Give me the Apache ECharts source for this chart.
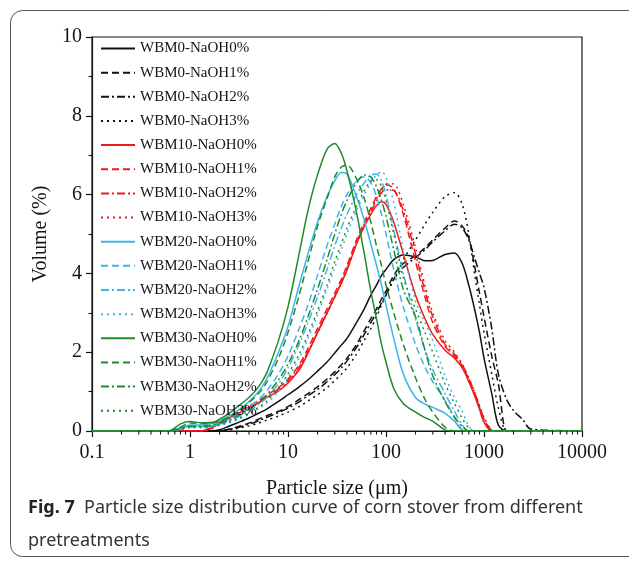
<!DOCTYPE html>
<html>
<head>
<meta charset="utf-8">
<script src="https://cdn.jsdelivr.net/npm/echarts@6/dist/echarts.min.js"></script>
<style>
  html, body { margin: 0; padding: 0; background: #fff; }
  #chart { width: 629px; height: 564px; }
</style>
</head>
<body>
<div id="chart"></div>
<script>
// Particle size bins (µm), shared by every distribution curve
const sizes = [0.1, 0.6, 0.8, 1, 1.3, 1.7, 2, 2.5, 3, 4, 5, 6, 8, 10, 13, 16, 20, 25, 30, 35,
  40, 50, 60, 70, 80, 90, 100, 120, 150, 200, 250, 300, 400, 500, 600, 700, 800, 900, 1000,
  1200, 1400, 1700, 2000, 2500, 3000, 10000];

// Volume (%) per bin for each pretreatment
const wbm0Naoh0 = [0, 0, 0, 0, 0, 0, 0.03, 0.12, 0.2, 0.33, 0.45, 0.55, 0.75, 0.92, 1.12, 1.3, 1.52, 1.75, 1.98, 2.18,
  2.35, 2.75, 3.1, 3.45, 3.7, 3.95, 4.1, 4.35, 4.47, 4.42, 4.32, 4.33, 4.48, 4.52, 4.25, 3.7, 3.1, 2.5, 1.85,
  0.95, 0.15, 0, 0, 0, 0, 0];
const wbm0Naoh1 = [0, 0, 0, 0, 0, 0, 0, 0.05, 0.1, 0.2, 0.3, 0.38, 0.5, 0.62, 0.8, 0.95, 1.12, 1.32, 1.5, 1.68,
  1.85, 2.2, 2.55, 2.85, 3.1, 3.35, 3.55, 3.95, 4.25, 4.45, 4.65, 4.85, 5.15, 5.33, 5.2, 4.9, 4.2, 3.5, 2.9,
  1.9, 1.2, 0, 0, 0, 0, 0];
const wbm0Naoh2 = [0, 0, 0, 0, 0, 0, 0, 0.04, 0.08, 0.17, 0.26, 0.34, 0.47, 0.58, 0.74, 0.9, 1.05, 1.25, 1.43, 1.6,
  1.78, 2.12, 2.45, 2.75, 3.0, 3.25, 3.45, 3.85, 4.15, 4.4, 4.6, 4.8, 5.08, 5.25, 5.15, 4.85, 4.4, 4.0, 3.65,
  2.6, 1.45, 0.8, 0.52, 0.28, 0.05, 0];
const wbm0Naoh3 = [0, 0, 0, 0, 0, 0, 0, 0.03, 0.06, 0.13, 0.2, 0.27, 0.38, 0.48, 0.62, 0.76, 0.92, 1.1, 1.28, 1.44,
  1.6, 1.95, 2.3, 2.6, 2.9, 3.2, 3.45, 3.85, 4.35, 4.85, 5.25, 5.55, 5.95, 6.05, 5.75, 5.0, 4.0, 3.2, 2.5,
  1.45, 0.6, 0, 0, 0, 0, 0];

const wbm10Naoh0 = [0, 0, 0, 0, 0, 0.1, 0.22, 0.33, 0.43, 0.58, 0.72, 0.84, 1.02, 1.22, 1.55, 1.98, 2.5, 3.0, 3.4, 3.75,
  4.08, 4.75, 5.2, 5.5, 5.72, 5.82, 5.75, 5.3, 4.5, 3.45, 2.85, 2.45, 2.05, 1.85, 1.6, 1.25, 0.9, 0.55, 0.22,
  0, 0, 0, 0, 0, 0, 0];
const wbm10Naoh1 = [0, 0, 0, 0, 0, 0.1, 0.22, 0.35, 0.47, 0.63, 0.77, 0.9, 1.1, 1.32, 1.68, 2.1, 2.6, 3.1, 3.5, 3.85,
  4.2, 4.85, 5.3, 5.65, 5.95, 6.15, 6.25, 6.15, 5.5, 4.3, 3.4, 2.75, 2.15, 1.9, 1.65, 1.3, 0.95, 0.6, 0.3,
  0, 0, 0, 0, 0, 0, 0];
const wbm10Naoh2 = [0, 0, 0, 0, 0, 0.08, 0.2, 0.32, 0.44, 0.6, 0.74, 0.87, 1.07, 1.28, 1.62, 2.02, 2.5, 3.0, 3.42, 3.78,
  4.12, 4.75, 5.2, 5.55, 5.85, 6.05, 6.12, 6.1, 5.6, 4.5, 3.55, 2.9, 2.2, 1.95, 1.68, 1.33, 0.98, 0.63, 0.32,
  0.02, 0, 0, 0, 0, 0, 0];
const wbm10Naoh3 = [0, 0, 0, 0, 0, 0.06, 0.18, 0.3, 0.42, 0.57, 0.7, 0.83, 1.03, 1.25, 1.6, 2.0, 2.48, 2.98, 3.4, 3.77,
  4.12, 4.78, 5.25, 5.62, 5.9, 6.12, 6.28, 6.27, 5.75, 4.65, 3.7, 3.0, 2.3, 2.0, 1.7, 1.35, 1.0, 0.65, 0.35,
  0.03, 0, 0, 0, 0, 0, 0];

const wbm20Naoh0 = [0, 0, 0.08, 0.15, 0.15, 0.2, 0.26, 0.38, 0.5, 0.75, 1.0, 1.3, 2.0, 2.65, 3.7, 4.5, 5.3, 5.95, 6.35, 6.56,
  6.52, 5.95, 5.35, 4.75, 4.2, 3.7, 3.2, 2.35, 1.45, 0.85, 0.68, 0.6, 0.45, 0.25, 0.02, 0, 0, 0, 0,
  0, 0, 0, 0, 0, 0, 0];
const wbm20Naoh1 = [0, 0, 0.05, 0.12, 0.12, 0.15, 0.2, 0.3, 0.4, 0.6, 0.8, 1.0, 1.45, 1.9, 2.6, 3.2, 3.95, 4.7, 5.25, 5.7,
  6.0, 6.35, 6.45, 6.3, 5.95, 5.5, 5.0, 4.1, 3.15, 2.2, 1.62, 1.25, 0.78, 0.35, 0.03, 0, 0, 0, 0,
  0, 0, 0, 0, 0, 0, 0];
const wbm20Naoh2 = [0, 0, 0.04, 0.1, 0.1, 0.12, 0.17, 0.25, 0.34, 0.5, 0.67, 0.84, 1.2, 1.6, 2.2, 2.75, 3.4, 4.1, 4.7, 5.15,
  5.5, 6.0, 6.3, 6.5, 6.52, 6.35, 6.0, 5.1, 4.0, 2.85, 2.05, 1.55, 0.95, 0.5, 0.15, 0, 0, 0, 0,
  0, 0, 0, 0, 0, 0, 0];
const wbm20Naoh3 = [0, 0, 0.03, 0.08, 0.08, 0.1, 0.14, 0.2, 0.28, 0.42, 0.56, 0.7, 1.0, 1.35, 1.85, 2.35, 2.95, 3.6, 4.15, 4.6,
  5.0, 5.6, 6.0, 6.3, 6.5, 6.58, 6.45, 5.8, 4.6, 3.3, 2.75, 2.3, 1.4, 0.85, 0.5, 0.12, 0, 0, 0,
  0, 0, 0, 0, 0, 0, 0];

const wbm30Naoh0 = [0, 0, 0.18, 0.24, 0.21, 0.22, 0.3, 0.45, 0.6, 0.85, 1.12, 1.45, 2.3, 3.15, 4.5, 5.6, 6.5, 7.15, 7.3, 7.05,
  6.6, 5.55, 4.5, 3.55, 2.85, 2.2, 1.75, 1.08, 0.7, 0.48, 0.34, 0.25, 0.03, 0, 0, 0, 0, 0, 0,
  0, 0, 0, 0, 0, 0, 0];
const wbm30Naoh1 = [0, 0, 0.1, 0.2, 0.19, 0.2, 0.25, 0.35, 0.47, 0.72, 0.95, 1.22, 1.85, 2.5, 3.45, 4.3, 5.2, 5.9, 6.45, 6.7,
  6.75, 6.4, 5.9, 5.3, 4.7, 4.2, 3.7, 3.0, 2.2, 1.35, 0.8, 0.48, 0.1, 0, 0, 0, 0, 0, 0,
  0, 0, 0, 0, 0, 0, 0];
const wbm30Naoh2 = [0, 0, 0.06, 0.12, 0.12, 0.15, 0.2, 0.28, 0.37, 0.55, 0.72, 0.9, 1.3, 1.7, 2.3, 2.9, 3.6, 4.35, 5.0, 5.5,
  5.85, 6.3, 6.5, 6.45, 6.2, 5.85, 5.45, 4.6, 3.6, 2.9, 2.05, 1.4, 0.75, 0.35, 0.12, 0, 0, 0, 0,
  0, 0, 0, 0, 0, 0, 0];
const wbm30Naoh3 = [0, 0, 0.04, 0.1, 0.1, 0.12, 0.16, 0.23, 0.3, 0.45, 0.6, 0.75, 1.1, 1.45, 1.95, 2.45, 3.05, 3.7, 4.3, 4.75,
  5.15, 5.7, 6.1, 6.35, 6.38, 6.2, 5.85, 5.0, 3.9, 3.1, 2.5, 2.0, 1.2, 0.7, 0.32, 0.08, 0, 0, 0,
  0, 0, 0, 0, 0, 0, 0];

const seriesNames = [
  'WBM0-NaOH0%', 'WBM0-NaOH1%', 'WBM0-NaOH2%', 'WBM0-NaOH3%',
  'WBM10-NaOH0%', 'WBM10-NaOH1%', 'WBM10-NaOH2%', 'WBM10-NaOH3%',
  'WBM20-NaOH0%', 'WBM20-NaOH1%', 'WBM20-NaOH2%', 'WBM20-NaOH3%',
  'WBM30-NaOH0%', 'WBM30-NaOH1%', 'WBM30-NaOH2%', 'WBM30-NaOH3%'
];
const seriesValues = [
  wbm0Naoh0, wbm0Naoh1, wbm0Naoh2, wbm0Naoh3,
  wbm10Naoh0, wbm10Naoh1, wbm10Naoh2, wbm10Naoh3,
  wbm20Naoh0, wbm20Naoh1, wbm20Naoh2, wbm20Naoh3,
  wbm30Naoh0, wbm30Naoh1, wbm30Naoh2, wbm30Naoh3
];

// Colour per wet ball-milling level, dash pattern per NaOH loading
const groupColors = ['#111111', '#f01a1a', '#3cb6ea', '#1f8a2c'];
const dashPatterns = ['solid', [7, 4], [8, 3, 2, 3], [2, 4]];

// Minor tick positions 2..9 within each decade
const minorTickValues = [];
[0.1, 1, 10, 100, 1000].forEach(function (d) {
  for (let m = 2; m <= 9; m++) minorTickValues.push(+(m * d).toPrecision(6));
});

const serifFont = 'Liberation Serif';
const ink = '#151515';

const series = seriesNames.map(function (name, i) {
  const color = groupColors[Math.floor(i / 4)];
  return {
    name: name,
    type: 'line',
    xAxisIndex: 0,
    yAxisIndex: 0,
    symbol: 'none',
    showSymbol: false,
    smooth: 0.3,
    animation: false,
    silent: true,
    z: i === 12 ? 3 : 2,
    lineStyle: { color: color, width: 1.5, type: dashPatterns[i % 4] },
    itemStyle: { color: color },
    data: sizes.map(function (s, k) { return [s, seriesValues[i][k]]; })
  };
});

// Logarithmic minor ticks under the x axis, placed through the axis scale
series.push({
  type: 'custom',
  name: 'minor-ticks',
  xAxisIndex: 0,
  yAxisIndex: 0,
  silent: true,
  clip: false,
  z: 4,
  animation: false,
  data: minorTickValues.map(function (v) { return [v, 0]; }),
  renderItem: function (params, api) {
    const p = api.coord([api.value(0), 0]);
    return {
      type: 'line',
      shape: { x1: p[0], y1: p[1], x2: p[0], y2: p[1] + 3.5 },
      style: { stroke: ink, lineWidth: 1.1 }
    };
  }
});

const chart = echarts.init(document.getElementById('chart'), null, { renderer: 'canvas' });
chart.setOption({
  animation: false,
  backgroundColor: '#ffffff',
  grid: {
    left: 92, right: 47, top: 37, bottom: 133,
    show: true, borderColor: ink, borderWidth: 1.2, backgroundColor: 'transparent'
  },
  legend: {
    orient: 'vertical',
    left: 100,
    top: 41,
    padding: 0,
    itemWidth: 34,
    itemHeight: 14,
    itemGap: 9.15,
    selectedMode: false,
    itemStyle: { opacity: 0 },
    textStyle: { fontFamily: serifFont, fontSize: 15, color: ink },
    data: seriesNames
  },
  xAxis: {
    type: 'log',
    logBase: 10,
    min: 0.1,
    max: 10000,
    name: 'Particle size (\u03bcm)',
    nameLocation: 'middle',
    nameGap: 48,
    nameTextStyle: { fontFamily: serifFont, fontSize: 20, color: ink },
    axisLine: { onZero: false, lineStyle: { color: ink, width: 1.2 } },
    axisTick: { length: 6, lineStyle: { color: ink, width: 1.2 } },
    axisLabel: {
      fontFamily: serifFont, fontSize: 20, color: ink, margin: 12,
      formatter: function (v) { return String(+v.toPrecision(6)); }
    },
    splitLine: { show: false }
  },
  yAxis: {
    type: 'value',
    min: 0,
    max: 10,
    interval: 2,
    name: 'Volume (%)',
    nameLocation: 'middle',
    nameGap: 31,
    nameTextStyle: { fontFamily: serifFont, fontSize: 20, color: ink },
    axisLine: { show: true, onZero: false, lineStyle: { color: ink, width: 1.2 } },
    axisTick: { show: true, length: 6, lineStyle: { color: ink, width: 1.2 } },
    minorTick: { show: true, splitNumber: 2, length: 3.5, lineStyle: { color: ink, width: 1.1 } },
    axisLabel: { fontFamily: serifFont, fontSize: 20, color: ink, margin: 10 },
    splitLine: { show: false }
  },
  graphic: [{
    type: 'rect',
    z: -10,
    silent: true,
    shape: { x: 10.5, y: 10.5, width: 700, height: 546, r: 12 },
    style: { fill: 'none', stroke: '#555', lineWidth: 1 }
  }, {
    type: 'text',
    left: 28,
    top: 491,
    silent: true,
    style: {
      text: '{b|Fig. 7}  Particle size distribution curve of corn stover from different\npretreatments',
      fontFamily: 'Noto Sans',
      fontSize: 18,
      fill: '#333',
      lineHeight: 33,
      rich: { b: { fontWeight: 'bold', fontSize: 18, fontFamily: 'Noto Sans', fill: '#222', lineHeight: 33 } }
    }
  }],
  series: series
});
</script>
</body>
</html>
